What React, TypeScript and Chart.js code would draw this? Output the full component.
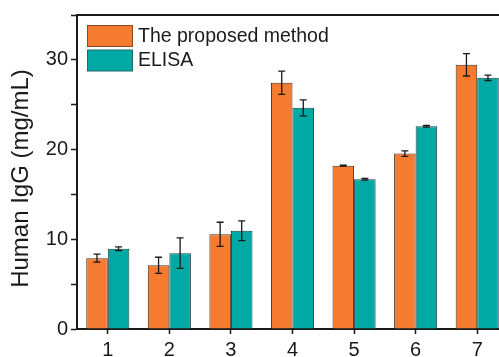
import React, { useEffect, useRef } from "react";
import { Chart, registerables } from "chart.js";

Chart.register(...registerables);

const categories = ["1", "2", "3", "4", "5", "6", "7"];
const proposedValues = [7.9, 7.1, 10.55, 27.45, 18.2, 19.55, 29.45];
const proposedErrors = [0.45, 0.9, 1.35, 1.3, 0.05, 0.3, 1.25];
const elisaValues = [8.95, 8.45, 10.95, 24.65, 16.7, 22.6, 28.0];
const elisaErrors = [0.2, 1.7, 1.1, 0.9, 0.1, 0.1, 0.3];
const seriesLabels = ["The proposed method", "ELISA"];
const yTicks = [0, 10, 20, 30];
const yTitle = "Human IgG (mg/mL)";

const FONT = "'Liberation Sans', Arial, sans-serif";
const ORANGE = "#F47B2F";
const TEAL = "#00A9A3";
const INK = "#1a1a1a";

const errorBarPlugin = {
  id: "errorBars",
  afterDatasetsDraw(chart: any) {
    const ctx = chart.ctx;
    const yScale = chart.scales.y;
    const errs = [proposedErrors, elisaErrors];
    ctx.save();
    ctx.strokeStyle = INK;
    ctx.lineWidth = 1.3;
    chart.data.datasets.forEach((ds: any, di: number) => {
      const meta = chart.getDatasetMeta(di);
      meta.data.forEach((bar: any, i: number) => {
        const v = ds.data[i];
        const e = errs[di][i];
        const x = bar.x;
        const yTop = yScale.getPixelForValue(v + e);
        const yBot = yScale.getPixelForValue(v - e);
        ctx.beginPath();
        ctx.moveTo(x, yTop);
        ctx.lineTo(x, yBot);
        ctx.moveTo(x - 3.5, yTop);
        ctx.lineTo(x + 3.5, yTop);
        ctx.moveTo(x - 3.5, yBot);
        ctx.lineTo(x + 3.5, yBot);
        ctx.stroke();
      });
    });
    ctx.restore();
  },
};

const framePlugin = {
  id: "frameAndLegend",
  afterDraw(chart: any) {
    const ctx = chart.ctx;
    const { left, right, top, bottom } = chart.chartArea;
    ctx.save();
    ctx.strokeStyle = INK;
    ctx.lineWidth = 2;
    ctx.beginPath();
    ctx.moveTo(left - 1, top);
    ctx.lineTo(right, top);
    ctx.lineTo(right, bottom);
    ctx.stroke();
    // legend
    const colors = [ORANGE, TEAL];
    const borders = ["#8a4a22", "#1f6b66"];
    ctx.font = `19.5px ${FONT}`;
    ctx.textBaseline = "middle";
    ctx.textAlign = "left";
    seriesLabels.forEach((label, i) => {
      const bx = left + 10.5;
      const by = top + 10.5 + i * 24.5;
      ctx.fillStyle = colors[i];
      ctx.fillRect(bx, by, 45, 21);
      ctx.strokeStyle = borders[i];
      ctx.lineWidth = 1;
      ctx.strokeRect(bx, by, 45, 21);
      ctx.fillStyle = INK;
      ctx.fillText(label, left + 61, by + 11);
    });
    // y axis title
    ctx.translate(21, 178.5);
    ctx.rotate(-Math.PI / 2);
    ctx.font = `24px ${FONT}`;
    ctx.textAlign = "center";
    ctx.textBaseline = "middle";
    ctx.fillStyle = INK;
    ctx.fillText(yTitle, 0, 0);
    ctx.restore();
  },
};

export default function App() {
  const canvasRef = useRef<HTMLCanvasElement>(null);

  useEffect(() => {
    if (!canvasRef.current) return;
    const chart = new Chart(canvasRef.current, {
      type: "bar",
      data: {
        labels: categories,
        datasets: [
          {
            label: seriesLabels[0],
            data: proposedValues,
            backgroundColor: ORANGE,
            borderColor: "#4a3020",
            borderWidth: 1,
            categoryPercentage: 0.7,
            barPercentage: 1,
          },
          {
            label: seriesLabels[1],
            data: elisaValues,
            backgroundColor: TEAL,
            borderColor: "#1f3f3d",
            borderWidth: 1,
            categoryPercentage: 0.7,
            barPercentage: 1,
          },
        ],
      },
      options: {
        responsive: false,
        animation: false,
        devicePixelRatio: 1,
        layout: { padding: { top: 15, right: 0, left: 0, bottom: 0 } },
        plugins: {
          legend: { display: false },
          tooltip: { enabled: false },
        },
        scales: {
          x: {
            type: "category",
            offset: true,
            grid: {
              drawOnChartArea: false,
              drawTicks: true,
              tickLength: 5,
              tickColor: INK,
              tickWidth: 1.5,
              offset: false,
            },
            border: { color: INK, width: 2 },
            ticks: {
              color: INK,
              font: { family: FONT, size: 20 },
              padding: 4,
            },
            afterFit: (s: any) => {
              s.height = 28;
            },
          },
          y: {
            min: 0,
            max: 35,
            grid: {
              drawOnChartArea: false,
              drawTicks: true,
              tickLength: 6,
              tickColor: INK,
              tickWidth: 1.5,
            },
            border: { color: INK, width: 2 },
            ticks: {
              stepSize: 5,
              color: INK,
              font: { family: FONT, size: 20 },
              padding: 3,
              callback: (v: any) => (yTicks.includes(Number(v)) ? String(v) : ""),
            },
            title: { display: false },
            afterFit: (s: any) => {
              s.width = 77;
            },
          },
        },
      },
      plugins: [errorBarPlugin, framePlugin],
    });
    return () => chart.destroy();
  }, []);

  return (
    <div
      style={{
        position: "fixed",
        left: 0,
        top: 0,
        width: 499,
        height: 357,
        overflow: "hidden",
        background: "#fff",
      }}
    >
      <canvas ref={canvasRef} width={508} height={357} style={{ display: "block" }} />
    </div>
  );
}
